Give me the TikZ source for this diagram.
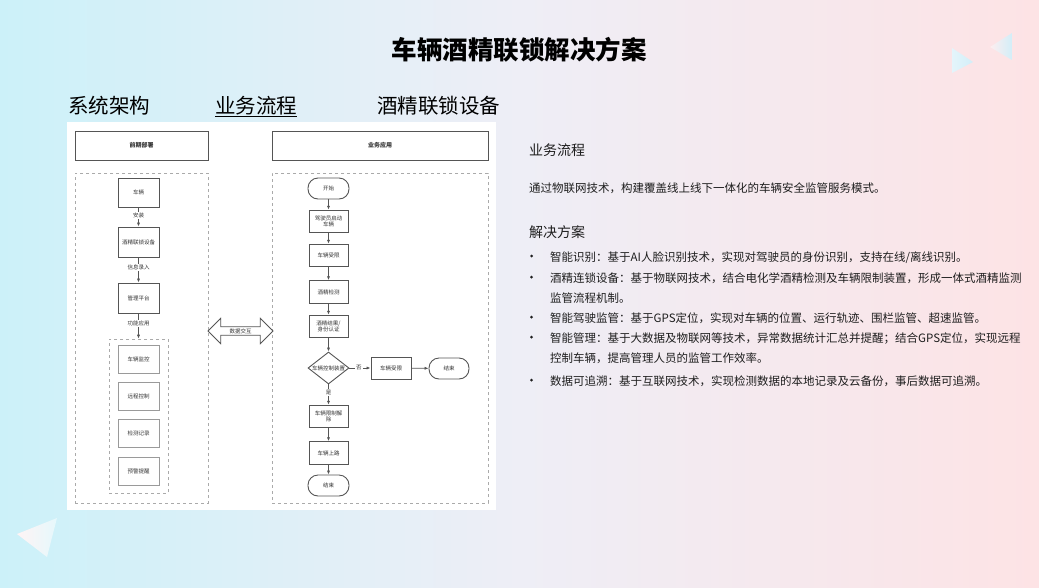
\documentclass[tikz,border=0pt]{standalone}
\usepackage{fontspec}
\setmainfont{Noto Sans CJK SC}
\usetikzlibrary{shapes.geometric,shapes.arrows,arrows.meta}
\definecolor{bgL}{HTML}{CCF1F9}
\definecolor{bgM}{HTML}{EEEEF6}
\definecolor{bgR}{HTML}{FDE3E5}
\definecolor{triB}{HTML}{D2EEF8}
\definecolor{lineC}{HTML}{555555}
\definecolor{lightC}{HTML}{9A9A9A}
\definecolor{dashC}{HTML}{AAAAAA}
\definecolor{txtC}{HTML}{1E1E1E}
\definecolor{smallC}{HTML}{333333}
\begin{document}
\begin{tikzpicture}[x=1pt,y=-1pt,
  tiny/.style={font=\fontsize{5.5}{6.6}\selectfont, text=smallC},
  hdr/.style={draw=lineC, line width=1pt, fill=white, minimum width=133pt, minimum height=29pt, inner sep=0pt, font=\fontsize{6}{7}\selectfont\bfseries, text=smallC},
  cont/.style={draw=dashC, dashed, line width=0.6pt, inner sep=0pt},
  lbox/.style={tiny, draw=lineC, line width=0.9pt, fill=white, minimum width=41pt, minimum height=29pt, inner sep=0pt, align=center},
  ibox/.style={tiny, draw=lightC, line width=0.7pt, fill=white, minimum width=41pt, minimum height=28pt, inner sep=0pt, align=center},
  fbox/.style={tiny, draw=lineC, line width=1pt, fill=white, minimum width=39pt, minimum height=22.5pt, inner sep=0pt, align=center},
  term/.style={tiny, draw=lineC, line width=0.9pt, fill=white, rounded corners=10pt, minimum width=41pt, minimum height=21pt, inner sep=0pt},
  arr/.style={draw=lineC, line width=0.8pt, -{Latex[length=4pt,width=3.2pt]}},
  elab/.style={tiny, fill=white, inner sep=1pt},
  tab/.style={font=\fontsize{20.5}{24}\selectfont, text=black, anchor=west, inner sep=0pt},
  head/.style={font=\fontsize{14}{17}\selectfont, text=txtC, anchor=west, inner sep=0pt},
  body/.style={font=\fontsize{11.5}{19.8}\selectfont, text=txtC, anchor=north west, inner sep=0pt, align=left},
  bul/.style={circle, fill=txtC, minimum size=3pt, inner sep=0pt}
]
% background
\shade[left color=bgL, right color=bgR, middle color=bgM] (0,0) rectangle (1039,587);
\useasboundingbox (0,0) rectangle (1039,587);
% decorative triangles
\shade[left color=triB!60!white, right color=triB] (952,48) -- (973,62) -- (952,73) -- cycle;
\shade[left color=bgR!60!white, right color=triB] (990,47) -- (1012,33) -- (1012,60) -- cycle;
\shade[left color=white!60!bgR, right color=white!50!bgL] (17,534) -- (57,518) -- (47,557) -- cycle;

% title and tabs
\node[font=\fontsize{25.5}{30}\selectfont\bfseries, text=black] (title) at (519,50) {车辆酒精联锁解决方案};
\node[tab] (tab1) at (68,106) {系统架构};
\node[tab] (tab2) at (215,106) {业务流程};
\node[tab] (tab3) at (377,106) {酒精联锁设备};
\draw[line width=1pt, black] (tab2.south west) ++(0,1.2) coordinate (ul1) -- (ul1 -| tab2.east);

% white panel
\fill[white] (67,122) rectangle (496,510);

% headers
\node[hdr] (h1) at (141.5,145.5) {前期部署};
\node[hdr, minimum width=216pt] (h2) at (380,145.5) {业务应用};
% containers
\node[cont, minimum width=133pt, minimum height=330pt] (c1) at (141.5,338) {};
\node[cont, minimum width=216pt, minimum height=330pt] (c2) at (380,338) {};
\node[cont, minimum width=59pt, minimum height=154pt] (c3) at (138.5,416) {};

% left column
\node[lbox] (l1) at (138.5,192.5) {车辆};
\node[lbox, minimum height=30pt] (l2) at (138.5,242) {酒精联锁设备};
\node[lbox, minimum height=30pt] (l3) at (138.5,298) {管理平台};
\node[ibox] (i1) at (138.5,359) {车辆监控};
\node[ibox] (i2) at (138.5,396) {远程控制};
\node[ibox] (i3) at (138.5,433.5) {检测记录};
\node[ibox] (i4) at (138.5,471.5) {预警提醒};
\draw[arr] (l1) -- node[elab, pos=0.4] (e1) {安装} (l2);
\draw[arr] (l2) -- node[elab, pos=0.4] (e2) {信息录入} (l3);
\draw[arr] (l3) -- node[elab, pos=0.4] (e3) {功能应用} (c3.north -| l3.south);

% data exchange arrow
\node[double arrow, draw=lineC, line width=0.8pt, fill=white, minimum height=65pt, double arrow head extend=8.5pt, inner sep=1.2pt, tiny] (dx) at (240.5,331) {数据交互};

% right column
\node[term] (s) at (328.5,188.5) {开始};
\node[fbox] (f1) at (328.5,221.5) {驾驶员启动\\车辆};
\node[fbox] (f2) at (328.5,255.5) {车辆受限};
\node[fbox] (f3) at (328.5,292) {酒精检测};
\node[fbox] (f4) at (328.5,326.5) {酒精结果/\\身份认证};
\node[diamond, draw=lineC, line width=0.9pt, fill=white, minimum width=41pt, minimum height=32pt, inner sep=0pt,
      label={[tiny, inner sep=0pt]center:车辆控制装置}] (d) at (328.5,368) {};
\node[fbox, minimum width=40pt, minimum height=22pt] (f5) at (391,368) {车辆受限};
\node[term, minimum width=40pt] (t1) at (449,368.5) {结束};
\node[fbox] (f6) at (328.5,416.5) {车辆限制解\\除};
\node[fbox] (f7) at (328.5,453) {车辆上路};
\node[term] (t2) at (328.5,485.5) {结束};
\draw[arr] (s) -- (f1);
\draw[arr] (f1) -- (f2);
\draw[arr] (f2) -- (f3);
\draw[arr] (f3) -- (f4);
\draw[arr] (f4) -- (d);
\draw[arr] (d) -- node[elab, pos=0.45] (no) {否} (f5);
\draw[arr] (f5) -- (t1);
\draw[arr] (d) -- node[elab, pos=0.4] (yes) {是} (f6);
\draw[arr] (f6) -- (f7);
\draw[arr] (f7) -- (t2);

% right text
\node[head] (r1) at (529,150) {业务流程};
\node[body, anchor=west] (r2) at (529,188) {通过物联网技术，构建覆盖线上线下一体化的车辆安全监管服务模式。};
\node[head] (r3) at (529,232) {解决方案};
\node[bul] (b1) at (531.5,256) {};
\node[body] (t1b) at (550,252) {智能识别：基于AI人脸识别技术，实现对驾驶员的身份识别，支持在线/离线识别。};
\node[bul] (b2) at (531.5,277) {};
\node[body] (t2b) at (550,272.5) {酒精连锁设备：基于物联网技术，结合电化学酒精检测及车辆限制装置，形成一体式酒精监测\\监管流程机制。};
\node[bul] (b3) at (531.5,317) {};
\node[body] (t3b) at (550,312.5) {智能驾驶监管：基于GPS定位，实现对车辆的位置、运行轨迹、围栏监管、超速监管。};
\node[bul] (b4) at (531.5,337) {};
\node[body] (t4b) at (550,332.5) {智能管理：基于大数据及物联网等技术，异常数据统计汇总并提醒；结合GPS定位，实现远程\\控制车辆，提高管理人员的监管工作效率。};
\node[bul] (b5) at (531.5,380) {};
\node[body] (t5b) at (550,375.5) {数据可追溯：基于互联网技术，实现检测数据的本地记录及云备份，事后数据可追溯。};
\end{tikzpicture}
\end{document}
